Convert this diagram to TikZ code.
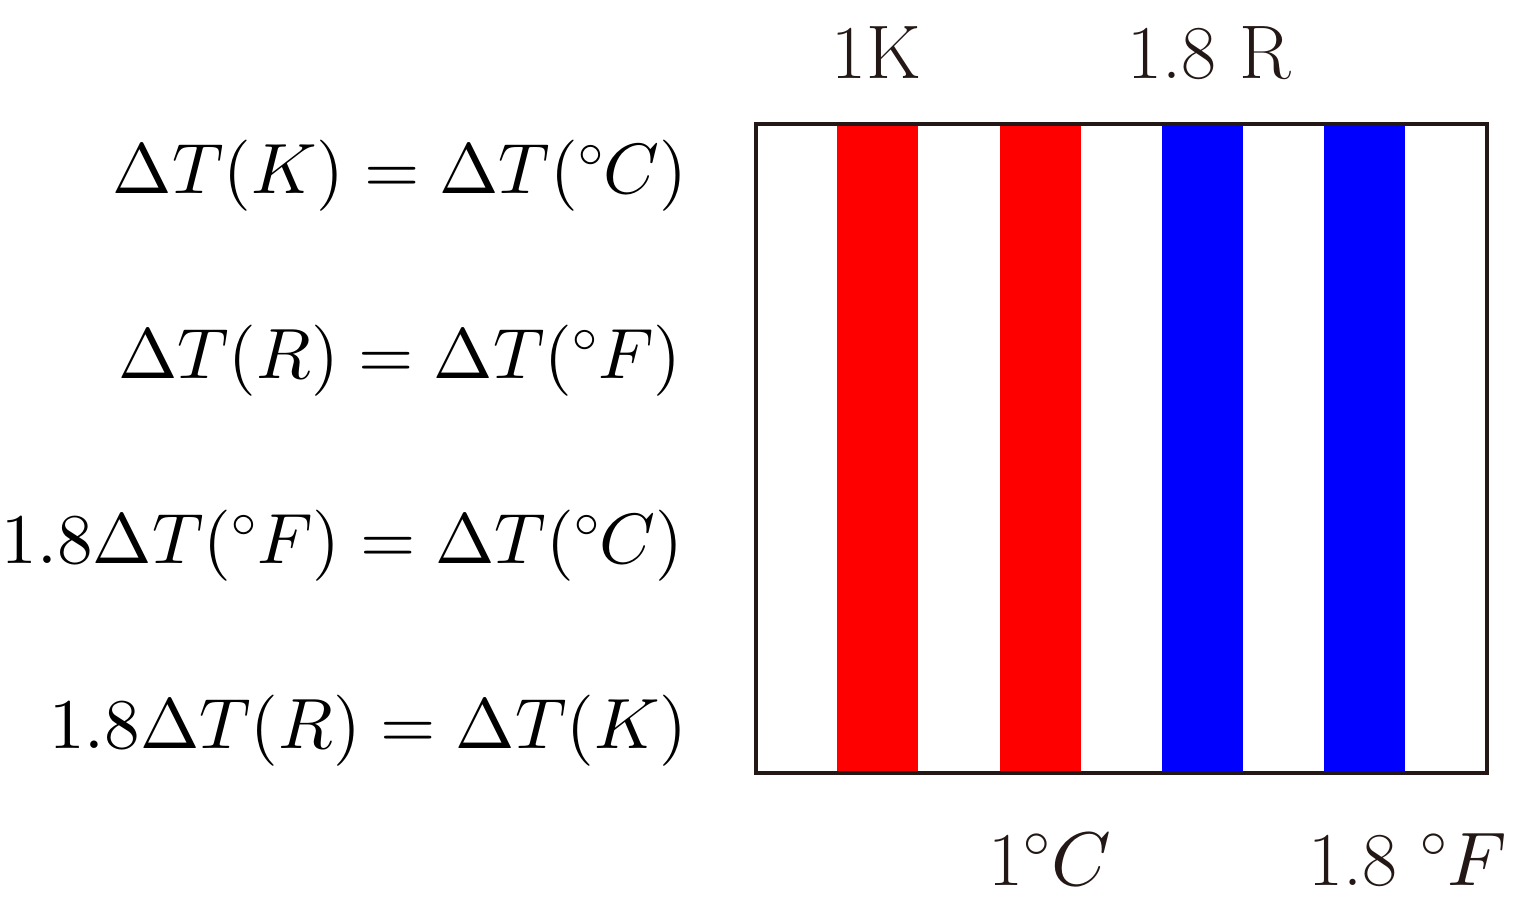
\RequirePackage{fix-cm}
\documentclass[tikz,border=0pt]{standalone}
\usepackage{amsmath}
\usepackage{tikz}
% heavier design-size fonts, scaled
\DeclareFontShape{OT1}{cmr}{m}{n}{<->cmr10}{}
\DeclareFontShape{OML}{cmm}{m}{it}{<->cmmi10}{}
\DeclareFontShape{OMS}{cmsy}{m}{n}{<->cmsy10}{}
\definecolor{inkdark}{HTML}{231815}
\definecolor{stripered}{HTML}{FF0000}
\definecolor{stripeblue}{HTML}{0000FF}

\begin{document}
\begin{tikzpicture}[
  x=0.5pt, y=-0.5pt,
  %--- text styles ---
  eqn/.style={anchor=base east, inner sep=0pt, font=\fontsize{35.6}{43}\selectfont},
  unitlabel/.style={anchor=base, inner sep=0pt, text=inkdark, font=\fontsize{38}{46}\selectfont},
  %--- frame ---
  frame/.style={draw=inkdark, line width=2pt}
]
\useasboundingbox (0,0) rectangle (1540,912);

%% -- stripes --
\foreach \xl/\col in {837/stripered, 1000/stripered, 1162/stripeblue, 1324/stripeblue}
  \fill[\col] (\xl,124) rectangle ++(81,649);

%% -- frame --
\draw[frame] (756,124) rectangle (1487,773);

%% -- equations --
\node[eqn] (eqK) at (688,193) {$\Delta T(K) = \Delta T(^\circ C)$};
\node[eqn] (eqR) at (682,378) {$\Delta T(R) = \Delta T(^\circ F)$};
\node[eqn] (eqF) at (684,563) {$1.8\Delta T(^\circ F) = \Delta T(^\circ C)$};
\node[eqn] (eqRK) at (688,748) {$1.8\Delta T(R) = \Delta T(K)$};

%% -- unit labels --
\node[unitlabel] (lblK) at (876,78) {1K};
\node[unitlabel] (lblR) at (1209,78) {1.8 R};
\node[unitlabel] (lblC) at (1050,885) {1$^\circ C$};
\node[unitlabel] (lblF) at (1408,885) {1.8 $^\circ F$};
\end{tikzpicture}
\end{document}
